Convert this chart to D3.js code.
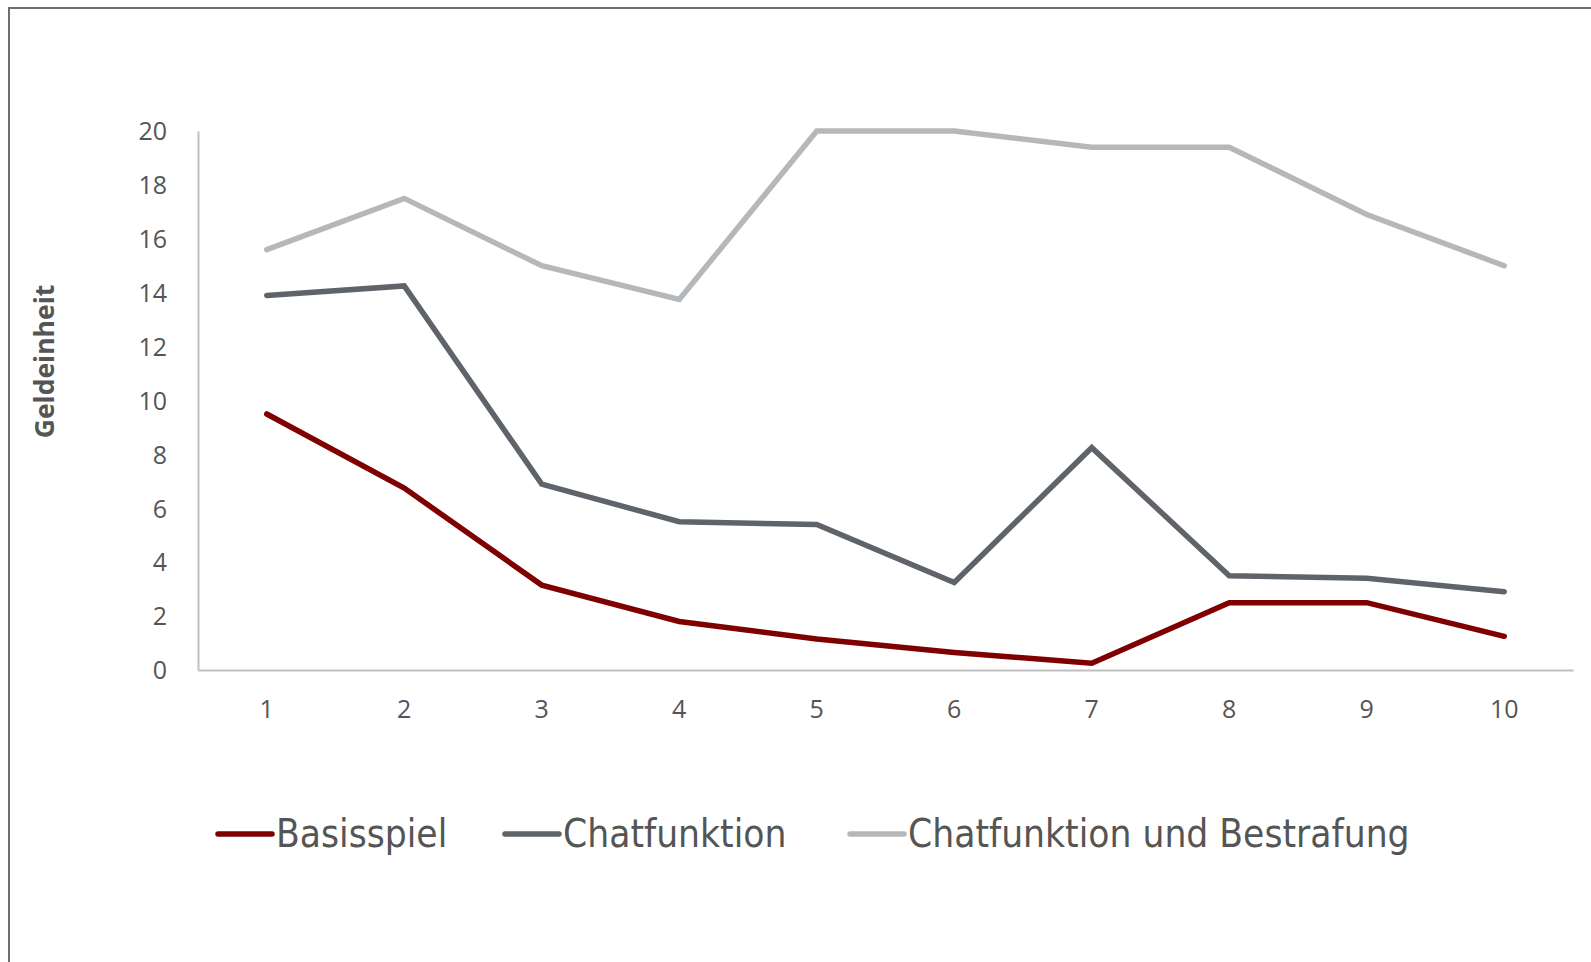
<!DOCTYPE html>
<html>
<head>
<meta charset="utf-8">
<script src="https://cdn.jsdelivr.net/npm/d3@7"></script>
<style>
  body { margin: 0; background: #fff; }
  svg { display: block; }
</style>
</head>
<body>
<svg id="chart"></svg>
<script>
const width = 1591;
const height = 962;

const rounds = ['1', '2', '3', '4', '5', '6', '7', '8', '9', '10'];
const basisspiel = [9.5, 6.75, 3.15, 1.8, 1.15, 0.65, 0.25, 2.5, 2.5, 1.25];
const chatfunktion = [13.9, 14.25, 6.9, 5.5, 5.4, 3.25, 8.25, 3.5, 3.4, 2.9];
const chatBestrafung = [15.6, 17.5, 15.0, 13.75, 20.0, 20.0, 19.4, 19.4, 16.9, 15.0];
const yTicks = [0, 2, 4, 6, 8, 10, 12, 14, 16, 18, 20];
const seriesNames = ['Basisspiel', 'Chatfunktion', 'Chatfunktion und Bestrafung'];

const colors = ['#7f0000', '#5f646a', '#b5b8bb'];
const series = [basisspiel, chatfunktion, chatBestrafung];

const plotLeft = 198, plotRight = 1573, plotTop = 131, plotBottom = 670;

const svg = d3.select('#chart')
    .attr('width', width)
    .attr('height', height);

// outer frame (only left and top edges visible)
svg.append('path')
    .attr('d', `M9,${height} L9,8 L${width},8`)
    .attr('fill', 'none')
    .attr('stroke', '#6e6e6e')
    .attr('stroke-width', 2);

const x = d3.scaleBand().domain(rounds).range([plotLeft, plotRight]);
const y = d3.scaleLinear().domain([0, 20]).range([plotBottom, plotTop]);

const xAxis = svg.append('g')
    .attr('transform', `translate(0, ${plotBottom})`)
    .call(d3.axisBottom(x).tickSize(0).tickPadding(39));

const yAxis = svg.append('g')
    .attr('transform', `translate(${plotLeft}, 0)`)
    .call(d3.axisLeft(y).tickValues(yTicks).tickSize(0).tickPadding(31));

[xAxis, yAxis].forEach(a => {
    a.select('.domain').attr('stroke', '#bfbfbf').attr('stroke-width', 2);
    a.selectAll('text')
        .attr('fill', '#555555')
        .style('font-family', '"Open Sans", "Noto Sans", sans-serif')
        .style('font-size', '25px');
});
xAxis.selectAll('text').attr('dy', '0.35em');
yAxis.selectAll('text').attr('dy', '0.35em');

svg.append('text')
    .attr('transform', `translate(45, ${(plotTop + plotBottom) / 2 - 39}) rotate(-90)`)
    .attr('text-anchor', 'middle')
    .attr('dy', '0.35em')
    .attr('fill', '#555555')
    .style('font-family', '"Open Sans", "Noto Sans", sans-serif')
    .style('font-weight', 'bold')
    .style('font-size', '26.5px')
    .text('Geldeinheit');

const line = d3.line()
    .x((d, i) => x(rounds[i]) + x.bandwidth() / 2)
    .y(d => y(d));

series.slice().reverse().forEach((s, k) => {
    const i = series.length - 1 - k;
    svg.append('path')
        .datum(s)
        .attr('d', line)
        .attr('fill', 'none')
        .attr('stroke', colors[i])
        .attr('stroke-width', 5.5)
        .attr('stroke-linecap', 'round')
        .attr('stroke-linejoin', 'miter');
});

// legend
const legendX = [218, 505, 850];
const legendY = 834;
const legend = svg.append('g');
seriesNames.forEach((name, i) => {
    legend.append('line')
        .attr('x1', legendX[i]).attr('x2', legendX[i] + 54)
        .attr('y1', legendY).attr('y2', legendY)
        .attr('stroke', colors[i])
        .attr('stroke-width', 5.5)
        .attr('stroke-linecap', 'round');
    legend.append('text')
        .attr('x', legendX[i] + 58)
        .attr('y', legendY)
        .attr('dy', '0.35em')
        .attr('fill', '#555555')
        .style('font-family', '"Liberation Sans Narrow", "DejaVu Sans Condensed", sans-serif')
        .style('font-size', '38.5px')
        .text(name);
});
</script>
</body>
</html>
